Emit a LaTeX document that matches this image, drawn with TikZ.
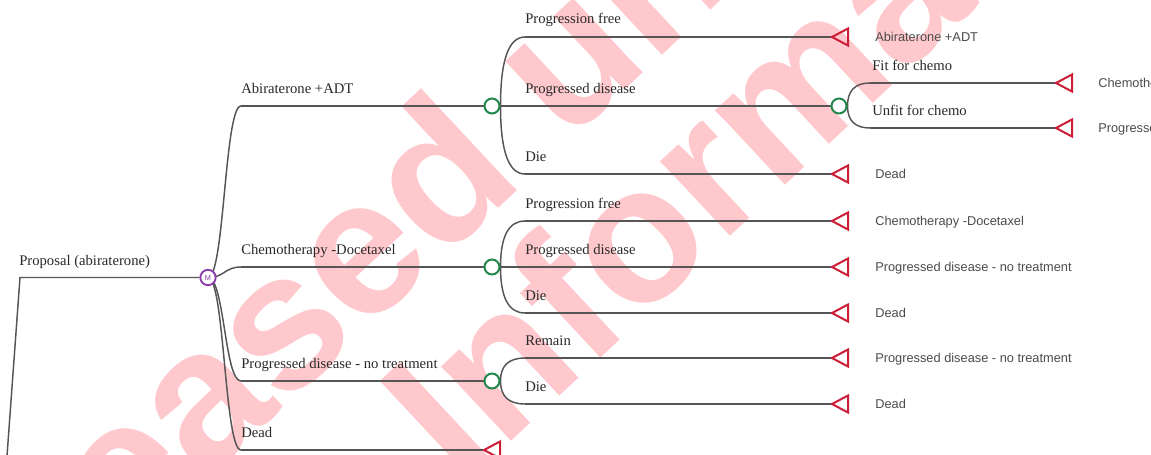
\documentclass[tikz,border=0pt]{standalone}
\usepackage{fontspec}
\setmainfont{Liberation Serif}
\newfontfamily\arialf{Liberation Sans}
\usetikzlibrary{calc}
\definecolor{lin}{RGB}{85,85,85}
\definecolor{grn}{RGB}{35,135,75}
\definecolor{redt}{RGB}{205,30,55}
\definecolor{pur}{RGB}{140,60,170}
\definecolor{wmk}{RGB}{255,200,205}
\definecolor{txta}{RGB}{40,40,40}
\definecolor{txtb}{RGB}{75,75,75}
\pgfdeclarelayer{wmlayer}
\pgfdeclarelayer{bglayer}
\pgfsetlayers{wmlayer,bglayer,main}
\newcommand\termtri[3]{%
  \coordinate (#1) at (#2,#3);
  \draw[termstyle] (#1) -- ++(16,-8.5) -- ++(0,17) -- cycle;}
\newcommand\qlink[2]{%
  \draw[edge] (#1) .. controls ($(#1)!0.667!(#1|-#2)$) and ($(#2)!0.667!(#1|-#2)$) .. (#2);}
\newcommand\dlink[2]{%
  \draw[edge] (#1) .. controls ($(#1)!0.5!(#1-|#2)$) and ($(#2)!0.5!(#2-|#1)$) .. (#2);}
\begin{document}
\begin{tikzpicture}[x=0.75pt,y=-0.75pt,
  edge/.style={draw=lin,line width=1.1pt},
  chance/.style={circle,draw=grn,fill=white,line width=1.5pt,minimum size=11.25pt,inner sep=0pt},
  markov/.style={circle,draw=pur,fill=white,line width=1.4pt,minimum size=11.5pt,inner sep=0pt,text=pur,
     font=\arialf\fontsize{5.5}{5.5}\selectfont},
  termstyle/.style={draw=redt,line width=1.5pt,line join=miter},
  lab/.style={anchor=base west,inner sep=0pt,text=txta,font=\fontsize{11}{13}\selectfont},
  tlab/.style={anchor=base west,inner sep=0pt,text=txtb,font=\arialf\fontsize{9.6}{12}\selectfont},
  wmtext/.style={anchor=base west,inner sep=0pt,rotate=43,text=wmk,
     font=\arialf\bfseries\fontsize{145}{145}\selectfont}]
\useasboundingbox (0,0) rectangle (1151,454);
\clip (0,0) rectangle (1151,454);
% watermark
\begin{pgfonlayer}{wmlayer}
\node[wmtext] (wm1) at (-94.1,760.6) {Released under the};
\node[wmtext] (wm2) at (461.6,487.7) {Information Act 1982};
\end{pgfonlayer}
% nodes
\node[markov] (M) at (208,277.5) {M};
\node[chance] (c1) at (492,106) {};
\node[chance] (c2) at (492,267) {};
\node[chance] (c3) at (492,381) {};
\node[chance] (c12) at (839,106) {};
% branch starts
\coordinate (r0) at (7,456);
\coordinate (r1) at (20,277.5);
\coordinate (b1) at (241,106);
\coordinate (b2) at (241,267);
\coordinate (b3) at (241,381);
\coordinate (b4) at (241,450);
\coordinate (s11) at (525,37);
\coordinate (s12) at (525,106);
\coordinate (s13) at (525,174);
\coordinate (s21) at (525,221);
\coordinate (s22) at (525,267);
\coordinate (s23) at (525,313);
\coordinate (s31) at (525,358);
\coordinate (s32) at (525,404);
\coordinate (s121) at (870,83);
\coordinate (s122) at (870,128);
% terminals
\termtri{t4}{484}{450}
\termtri{t11}{832}{37}
\termtri{t13}{832}{174}
\termtri{t21}{832}{221}
\termtri{t22}{832}{267}
\termtri{t23}{832}{313}
\termtri{t31}{832}{358}
\termtri{t32}{832}{404}
\termtri{t121}{1056}{83}
\termtri{t122}{1056}{128}
% edges
\begin{pgfonlayer}{bglayer}
\draw[edge] (r0) -- (r1) -- (M.west);
\dlink{M.center}{b1} \draw[edge] (b1) -- (c1.west);
\dlink{M.center}{b2} \draw[edge] (b2) -- (c2.west);
\dlink{M.center}{b3} \draw[edge] (b3) -- (c3.west);
\dlink{M.center}{b4} \draw[edge] (b4) -- (t4);
\qlink{c1.east}{s11} \draw[edge] (s11) -- (t11);
\draw[edge] (c1.east) -- (c12.west);
\qlink{c1.east}{s13} \draw[edge] (s13) -- (t13);
\qlink{c2.east}{s21} \draw[edge] (s21) -- (t21);
\draw[edge] (c2.east) -- (t22);
\qlink{c2.east}{s23} \draw[edge] (s23) -- (t23);
\qlink{c3.east}{s31} \draw[edge] (s31) -- (t31);
\qlink{c3.east}{s32} \draw[edge] (s32) -- (t32);
\qlink{c12.east}{s121} \draw[edge] (s121) -- (t121);
\qlink{c12.east}{s122} \draw[edge] (s122) -- (t122);
\end{pgfonlayer}
% branch labels
\node[lab] (l0) at (19,265) {Proposal (abiraterone)};
\node[lab] (l1) at (241,93) {Abiraterone +ADT};
\node[lab] (l2) at (241,254) {Chemotherapy -Docetaxel};
\node[lab] (l3) at (241,368) {Progressed disease - no treatment};
\node[lab] (l4) at (241,437) {Dead};
\node[lab] (l11) at (525,23) {Progression free};
\node[lab] (l12) at (525,93) {Progressed disease};
\node[lab] (l13) at (525,161) {Die};
\node[lab] (l21) at (525,208) {Progression free};
\node[lab] (l22) at (525,254) {Progressed disease};
\node[lab] (l23) at (525,300) {Die};
\node[lab] (l31) at (525,345) {Remain};
\node[lab] (l32) at (525,391) {Die};
\node[lab] (l121) at (872,70) {Fit for chemo};
\node[lab] (l122) at (872,115) {Unfit for chemo};
% terminal labels
\node[tlab] (e11) at (875,41.5) {Abiraterone +ADT};
\node[tlab] (e13) at (875,178.5) {Dead};
\node[tlab] (e21) at (875,225.5) {Chemotherapy -Docetaxel};
\node[tlab] (e22) at (875,271.5) {Progressed disease - no treatment};
\node[tlab] (e23) at (875,317.5) {Dead};
\node[tlab] (e31) at (875,362.5) {Progressed disease - no treatment};
\node[tlab] (e32) at (875,408.5) {Dead};
\node[tlab] (e121) at (1098,87.5) {Chemotherapy -Docetaxel};
\node[tlab] (e122) at (1098,132.5) {Progressed disease - no treatment};
\end{tikzpicture}
\end{document}
